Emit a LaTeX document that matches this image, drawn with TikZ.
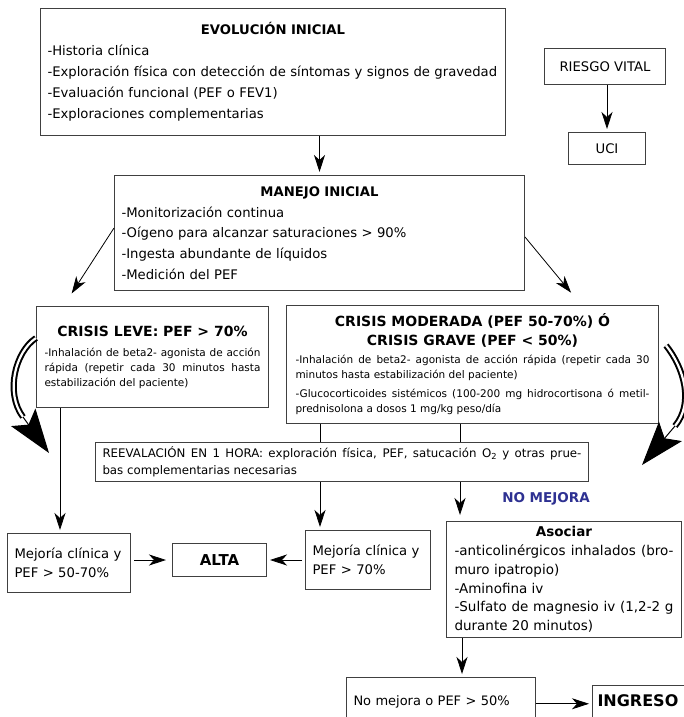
\documentclass[tikz,border=0pt]{standalone}
\usepackage{fontspec}
\setmainfont{DejaVu Sans}
\usetikzlibrary{arrows.meta}

\setlength{\parindent}{0pt}
\definecolor{mejorablue}{HTML}{2E3192}
\newcommand{\crisistitle}{\fontsize{14}{19}\selectfont\bfseries}
\newcommand{\crisisbody}{\fontsize{10.5}{15}\selectfont\hyphenpenalty=10000 }

\begin{document}
\begin{tikzpicture}[
    x=1pt, y=-1pt,
    >={Stealth[length=17pt, width=11pt, inset=5pt]},
    box/.style={draw=black!75, line width=1pt, fill=white, anchor=north west, inner xsep=7pt, inner ysep=0pt},
    txt/.style={font=\fontsize{13.2}{21}\selectfont},
    conn/.style={->, line width=0.8pt, shorten >=3pt},
    link/.style={line width=0.8pt},
    bigcurve/.style={line width=2pt, double=white, double distance=2.2pt},
    bighead/.style={-{Stealth[length=44pt, width=30pt, inset=9pt]}, line width=1pt}
]

\useasboundingbox (0,0) rectangle (684,717);
\clip (0,0) rectangle (684,717);

% top row
\node[box, txt, text width=451pt, minimum height=127pt, align=left] (evol) at (40,8) {{\centering\bfseries EVOLUCIÓN INICIAL\par}-Historia clínica\\-Exploración física con detección de síntomas y signos de gravedad\\-Evaluación funcional (PEF o FEV1)\\-Exploraciones complementarias};
\node[box, txt, minimum width=121pt, minimum height=36pt] (riesgo) at (544,48) {RIESGO VITAL};
\node[box, txt, minimum width=77pt, minimum height=32pt] (uci) at (568,132) {UCI};

\node[box, font=\fontsize{13.2}{20.7}\selectfont, text width=396pt, minimum height=115pt, align=left] (manejo) at (114,175) {{\centering\bfseries MANEJO INICIAL\par}-Monitorización continua\\-Oígeno para alcanzar saturaciones > 90\%\\-Ingesta abundante de líquidos\\-Medición del PEF};

% crisis boxes
\node[box, inner xsep=8pt, text width=216pt, minimum height=101pt, align=justify] (leve) at (36,306) {{\centering\crisistitle CRISIS LEVE: PEF > 70\%\par}\vspace{5pt}{\crisisbody -Inhalación de beta2- agonista de acción\linebreak rápida (repetir cada 30 minutos hasta\linebreak estabilización del paciente)\par}};
\node[box, inner xsep=9pt, text width=354pt, minimum height=118pt, align=justify] (mod) at (286,305) {{\centering\crisistitle CRISIS MODERADA (PEF 50-70\%) Ó\\CRISIS GRAVE (PEF < 50\%)\par}\vspace{3pt}{\crisisbody -Inhalación de beta2- agonista de acción rápida (repetir cada 30\linebreak minutos hasta estabilización del paciente)\par\vspace{4pt}-Glucocorticoides sistémicos (100-200 mg hidrocortisona ó metil-\linebreak prednisolona a dosos 1 mg/kg peso/día\par}};

\node[box, font=\fontsize{11.8}{17}\selectfont, text width=479pt, minimum height=39pt, align=justify] (reeval) at (95,442) {REEVALACIÓN EN 1 HORA: exploración física, PEF, satucación O\textsubscript{2} y otras prue-\linebreak bas complementarias necesarias};
\node[font=\fontsize{13.5}{16}\selectfont\bfseries, text=mejorablue] (nomejora) at (546,499) {NO MEJORA};

% results
\node[box, font=\fontsize{13.2}{19.5}\selectfont, text width=109pt, minimum height=59pt, align=left] (mejL) at (7,533) {Mejoría clínica y\\PEF > 50-70\%};
\node[box, font=\fontsize{15}{18}\selectfont\bfseries, minimum width=94pt, minimum height=33pt] (alta) at (172,543) {ALTA};
\node[box, font=\fontsize{13.2}{19.5}\selectfont, text width=111pt, minimum height=59pt, align=left] (mejR) at (305,530) {Mejoría clínica y\\PEF > 70\%};
\node[box, inner xsep=8pt, font=\fontsize{13.5}{18.8}\selectfont, text width=219pt, minimum height=116pt, align=justify] (asoc) at (446,521) {{\centering\bfseries Asociar\par}-anticolinérgicos inhalados (bro-\linebreak muro ipatropio)\par-Aminofina iv\par-Sulfato de magnesio iv (1,2-2 g\linebreak durante 20 minutos)};
\node[box, font=\fontsize{13}{19}\selectfont, text width=175pt, text height=28pt, text depth=30pt, align=left] (nomej) at (346,677) {No mejora o PEF > 50\%};
\node[box, font=\fontsize{16}{19}\selectfont\bfseries, text width=90pt, inner xsep=5pt, text height=21pt, text depth=20pt, align=left] (ingreso) at (592,685) {INGRESO};

% connectors
\draw[conn] (evol.south -| manejo.north) -- (manejo.north);
\draw[conn] (riesgo.south -| uci.north) -- (uci.north);
\draw[conn] ([yshift=5pt]manejo.west) -- ([xshift=34pt,yshift=10pt]leve.north west);
\draw[conn] ([yshift=-4pt]manejo.east) -- ([xshift=287pt,yshift=10pt]mod.north west);

\coordinate (leveout) at ([xshift=24pt]leve.south west);
\coordinate (modoutA) at ([xshift=34pt]mod.south west);
\coordinate (modoutB) at ([xshift=174pt]mod.south west);
\coordinate (asocout) at ([xshift=16pt]asoc.south west);

\draw[conn] (leveout) -- (leveout |- mejL.north);
\draw[link] (modoutA) -- (modoutA |- reeval.north);
\draw[link] (modoutB) -- (modoutB |- reeval.north);
\draw[conn] (modoutA |- reeval.south) -- (modoutA |- mejR.north);
\draw[conn, shorten >=6pt] (modoutB |- reeval.south) -- (modoutB |- asoc.north);

\draw[conn, shorten <=3pt, shorten >=6pt] (mejL.east |- alta.west) -- (alta.west);
\draw[conn, shorten <=3pt] (mejR.west |- alta.east) -- (alta.east);
\draw[conn] (asocout) -- (asocout |- nomej.north);
\draw[conn] (nomej.east |- ingreso.mid west) -- (ingreso.mid west);

% big curved arrows
\coordinate (leftcurvehead) at (23,417);
\coordinate (leftcurvetip) at (49,453);
\draw[bigcurve] ([yshift=19pt]leve.west) .. controls (15,352) and (5,393) .. (leftcurvehead);
\draw[bighead] (leftcurvehead) -- (leftcurvetip);

\coordinate (rightcurvehead) at (675,426);
\coordinate (rightcurvetip) at (642,465);
\draw[bigcurve] ([xshift=7pt,yshift=19pt]mod.east) .. controls (684,368) and (694,403) .. (rightcurvehead);
\draw[bighead] (rightcurvehead) -- (rightcurvetip);

\end{tikzpicture}
\end{document}
